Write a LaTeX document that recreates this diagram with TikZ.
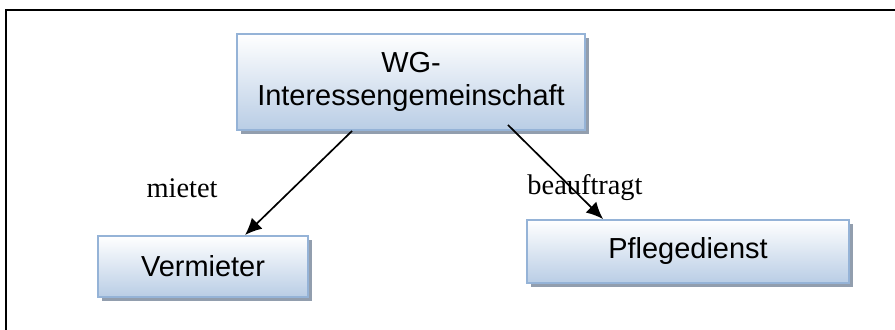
\documentclass[tikz,border=0pt]{standalone}
\usepackage{fontspec}
\setmainfont{Liberation Serif}
\newfontfamily\boxfont{Liberation Sans}
\usetikzlibrary{arrows.meta,shadows}
\definecolor{boxline}{RGB}{149,179,215}
\definecolor{boxfill}{RGB}{185,205,229}
\definecolor{boxshadow}{RGB}{146,158,174}
\tikzset{
  orgbox/.style={draw=boxline, line width=1.4pt, top color=white, bottom color=boxfill,
    minimum width=#1, inner sep=0pt, align=center,
    font=\boxfont\fontsize{20.6}{23.5}\selectfont,
    drop shadow={shadow xshift=0.1cm, shadow yshift=-0.1cm, fill=boxshadow, opacity=1}},
  rel/.style={-{Latex[length=0.42cm,width=0.38cm]}, line width=1.2pt},
  rellabel/.style={font=\fontsize{20.2}{24}\selectfont}
}
\begin{document}
\begin{tikzpicture}
\useasboundingbox (0,0) rectangle (22.375,8.225);
\draw [line width=1.6pt] (0.15,-0.2) -- (0.15,7.975) -- (22.6,7.975);
\node [orgbox=8.7cm, minimum height=2.4cm] (wg) at (10.275,6.175) {WG-\\Interessengemeinschaft};
\node [orgbox=5.25cm, minimum height=1.525cm] (verm) at (5.075,1.5625) {Vermieter};
\node [orgbox=8.05cm, minimum height=1.575cm] (pflege) at (17.2,1.9375) {Pflegedienst};
\draw [rel] ([xshift=-1.475cm]wg.south) -- ([xshift=1.05cm]verm.north);
\draw [rel] ([xshift=2.425cm,yshift=0.15cm]wg.south) -- ([xshift=-2.125cm]pflege.north);
\node [rellabel] (miet) at (4.55,3.525) {mietet};
\node [rellabel] (beauf) at (14.625,3.525) {beauftragt};
\end{tikzpicture}
\end{document}
